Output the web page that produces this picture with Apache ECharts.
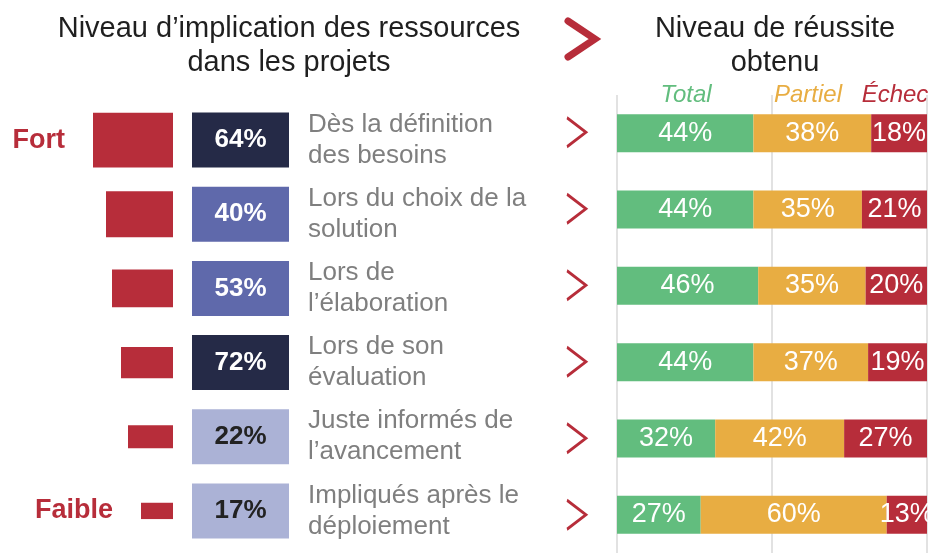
<!DOCTYPE html>
<html>
<head>
<meta charset="utf-8">
<script src="https://cdn.jsdelivr.net/npm/echarts@6/dist/echarts.min.js"></script>
<style>
  html, body { margin: 0; padding: 0; background: #fff; }
  #chart { width: 931px; height: 553px; }
</style>
</head>
<body>
<div id="chart"></div>
<script>
// données
const etapes = [
  'Dès la définition\ndes besoins',
  'Lors du choix de la\nsolution',
  'Lors de\nl’élaboration',
  'Lors de son\névaluation',
  'Juste informés de\nl’avancement',
  'Impliqués après le\ndéploiement'
]
const implication = [64, 40, 53, 72, 22, 17]
// indicateur d'intensité (Fort -> Faible)
const niveauLargeur = [80, 67, 61, 52, 45, 32]
const niveauHauteur = [0.74, 0.62, 0.51, 0.42, 0.31, 0.22]
const niveauTexte = ['Fort', '', '', '', '', 'Faible']
// niveau de réussite
const reussiteTotal = [44, 44, 46, 44, 32, 27]
const reussitePartiel = [38, 35, 35, 37, 42, 60]
const reussiteEchec = [18, 21, 20, 19, 27, 13]
const enTetes = ['Total', 'Partiel', 'Échec']

const police = "'Liberation Sans', Arial, sans-serif"
const rouge = '#b72d3a'
const vert = '#62bd7e'
const orange = '#e8ad42'

const totaux = reussiteTotal.map((v, i) => v + reussitePartiel[i] + reussiteEchec[i])

const couleurBoite = (v) => v >= 60 ? '#252a47' : (v >= 30 ? '#5f69ab' : '#abb2d6')

const segment = (nom, valeurs, couleur) => ({
  name: nom,
  type: 'bar',
  stack: 'reussite',
  xAxisIndex: 3,
  yAxisIndex: 3,
  barWidth: 38,
  silent: true,
  itemStyle: { color: couleur },
  label: {
    show: true,
    position: 'inside',
    color: '#fff',
    fontSize: 27,
    fontFamily: police,
    formatter: (p) => p.data.brut + '%'
  },
  data: valeurs.map((v, i) => ({ value: v * 100 / totaux[i], brut: v }))
})

const chart = echarts.init(document.getElementById('chart'))

const options = {
  backgroundColor: '#fff',
  animation: false,
  grid: [
    { left: 73, top: 103, width: 100, height: 445 },
    { left: 192, top: 103, width: 97, height: 445 },
    { left: 566, top: 94, width: 21, height: 467 },
    { left: 617, top: 95, width: 310, height: 467 }
  ],
  xAxis: [
    { type: 'value', gridIndex: 0, min: 0, max: 100, inverse: true, show: false },
    { type: 'category', gridIndex: 1, data: ['implication'], show: false },
    { type: 'category', gridIndex: 2, data: ['suite'], show: false },
    {
      type: 'value', gridIndex: 3, min: 0, max: 100, interval: 50,
      axisLabel: { show: false },
      axisTick: { show: false },
      axisLine: { show: false },
      splitLine: { show: true, lineStyle: { color: '#d9d9d9', width: 1.5 } }
    }
  ],
  yAxis: [
    { type: 'category', gridIndex: 0, data: etapes, inverse: true, show: false },
    {
      type: 'category', gridIndex: 1, data: etapes, inverse: true, position: 'right',
      axisLine: { show: false },
      axisTick: { show: false },
      splitLine: { show: false },
      axisLabel: {
        interval: 0,
        margin: 19,
        align: 'left',
        color: '#7f7f7f',
        fontSize: 26,
        lineHeight: 31,
        padding: [14, 0, 0, 0],
        fontFamily: police
      }
    },
    { type: 'category', gridIndex: 2, data: etapes, inverse: true, show: false },
    { type: 'category', gridIndex: 3, data: etapes, inverse: true, show: false }
  ],
  graphic: [
    {
      type: 'text', x: 289, y: 12,
      style: {
        text: 'Niveau d’implication des ressources\ndans les projets',
        align: 'center', verticalAlign: 'top',
        font: '29px ' + police, lineHeight: 34, fill: '#1f1f1f'
      }
    },
    {
      type: 'text', x: 775, y: 12,
      style: {
        text: 'Niveau de réussite\nobtenu',
        align: 'center', verticalAlign: 'top',
        font: '29px ' + police, lineHeight: 34, fill: '#1f1f1f'
      }
    },
    {
      type: 'polyline',
      shape: { points: [[568, 21], [595, 39], [568, 57]] },
      style: { stroke: rouge, lineWidth: 7, fill: null, lineCap: 'round', lineJoin: 'miter' }
    },
    {
      type: 'text', x: 686, y: 95,
      style: { text: enTetes[0], align: 'center', verticalAlign: 'middle', font: 'italic 24px ' + police, fill: vert }
    },
    {
      type: 'text', x: 808, y: 95,
      style: { text: enTetes[1], align: 'center', verticalAlign: 'middle', font: 'italic 24px ' + police, fill: orange }
    },
    {
      type: 'text', x: 895, y: 95,
      style: { text: enTetes[2], align: 'center', verticalAlign: 'middle', font: 'italic 24px ' + police, fill: rouge }
    }
  ],
  series: [
    {
      // rectangles rouges d'intensité
      type: 'custom',
      xAxisIndex: 0,
      yAxisIndex: 0,
      silent: true,
      data: niveauLargeur.map((w, i) => [w, i, niveauHauteur[i]]),
      renderItem: (params, api) => {
        const ligne = api.value(1)
        const droite = api.coord([0, ligne])
        const gauche = api.coord([api.value(0), ligne])
        const h = api.size([0, 1])[1] * api.value(2)
        return {
          type: 'group',
          children: [
            {
              type: 'rect',
              shape: { x: gauche[0], y: droite[1] - h / 2, width: droite[0] - gauche[0], height: h },
              style: { fill: rouge }
            },
            {
              type: 'text',
              x: gauche[0] - 28,
              y: droite[1],
              style: {
                text: niveauTexte[params.dataIndex],
                align: 'right', verticalAlign: 'middle',
                font: 'bold 27px ' + police, fill: rouge
              }
            }
          ]
        }
      }
    },
    {
      // boîtes de pourcentage d'implication
      type: 'scatter',
      xAxisIndex: 1,
      yAxisIndex: 1,
      silent: true,
      symbol: 'rect',
      symbolSize: [97, 55],
      itemStyle: { opacity: 1, color: (p) => couleurBoite(p.value[2]) },
      label: {
        show: true,
        position: 'inside',
        formatter: (p) => (p.value[2] >= 30 ? '{c|' : '{f|') + p.value[2] + '%}',
        rich: {
          c: { color: '#fff', fontWeight: 'bold', fontSize: 26, fontFamily: police },
          f: { color: '#222', fontWeight: 'bold', fontSize: 26, fontFamily: police }
        }
      },
      data: implication.map((v, i) => [0, i, v])
    },
    {
      // chevrons
      type: 'scatter',
      xAxisIndex: 2,
      yAxisIndex: 2,
      silent: true,
      symbol: 'path://M0,0L10,14L0,28',
      symbolSize: [19, 29],
      itemStyle: { color: 'transparent', borderColor: rouge, borderWidth: 2.5, opacity: 1 },
      data: etapes.map((_, i) => [0, i])
    },
    segment('Total', reussiteTotal, vert),
    segment('Partiel', reussitePartiel, orange),
    segment('Échec', reussiteEchec, rouge)
  ]
}

chart.setOption(options)
</script>
</body>
</html>
